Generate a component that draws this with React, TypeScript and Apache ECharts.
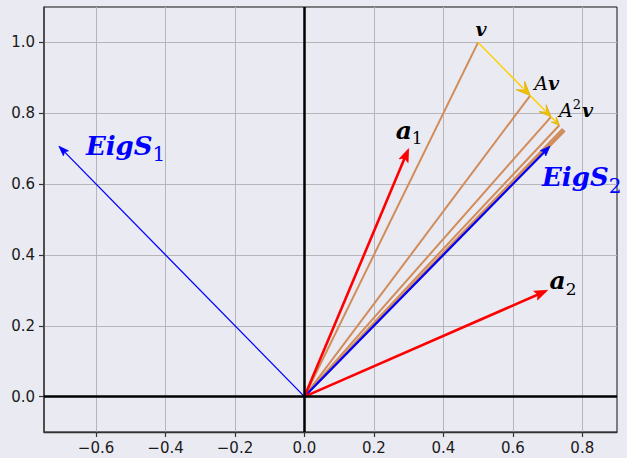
import { useEffect, useRef } from 'react';
import * as echarts from 'echarts';

// ---- data ----
const xTicks = [-0.6, -0.4, -0.2, 0.0, 0.2, 0.4, 0.6, 0.8];
const yTicks = [0.0, 0.2, 0.4, 0.6, 0.8, 1.0];

const columnNames = ['a1', 'a2'];
const columnX = [0.3, 0.7];
const columnY = [0.7, 0.3];

const eigenNames = ['EigS1', 'EigS2'];
const eigenX = [-0.7071, 0.7071];
const eigenY = [0.7071, 0.7071];

const iterateNames = ['v', 'Av', 'A²v', 'A³v', 'A⁴v', 'A⁵v', 'A⁶v', 'A⁷v'];
const iterateX = [0.5, 0.65, 0.71, 0.734, 0.7436, 0.7474, 0.749, 0.7496];
const iterateY = [1.0, 0.85, 0.79, 0.766, 0.7564, 0.7526, 0.751, 0.7504];
const yellowSteps = 3;

// ---- helpers ----
const SERIF = '"DejaVu Serif"';
const measureCtx = (() => {
  const c = document.createElement('canvas');
  return c.getContext('2d') as CanvasRenderingContext2D;
})();
function fontStr(p: any) {
  return `${p.italic ? 'italic' : 'normal'} ${p.bold ? 'bold' : 'normal'} ${p.fs}px ${SERIF}`;
}
function textWidth(p: any) {
  measureCtx.font = fontStr(p);
  return measureCtx.measureText(p.text).width;
}

type ArrowStyle = {
  color: string; width: number; headLen: number; headW: number; notch: number;
  headFill?: string; headStroke?: string;
};

function arrowSeries(name: string, segs: number[][], styles: ArrowStyle[], z: number) {
  return {
    name,
    type: 'custom',
    silent: true,
    z,
    clip: false,
    data: segs,
    encode: { x: [0, 2], y: [1, 3] },
    renderItem: (params: any, api: any) => {
      const s = styles[Math.min(params.dataIndex, styles.length - 1)];
      const p0 = api.coord([api.value(0), api.value(1)]);
      const p1 = api.coord([api.value(2), api.value(3)]);
      const dx = p1[0] - p0[0], dy = p1[1] - p0[1];
      const L = Math.hypot(dx, dy) || 1;
      const ux = dx / L, uy = dy / L, nx = -uy, ny = ux;
      const children: any[] = [];
      let ex = p1[0], ey = p1[1];
      if (s.headLen > 0) {
        ex = p1[0] - ux * s.headLen * 0.7;
        ey = p1[1] - uy * s.headLen * 0.7;
      }
      children.push({
        type: 'line',
        shape: { x1: p0[0], y1: p0[1], x2: ex, y2: ey },
        style: { stroke: s.color, lineWidth: s.width, lineCap: 'butt' },
      });
      if (s.headLen > 0) {
        const bx = p1[0] - ux * s.headLen, by = p1[1] - uy * s.headLen;
        const mx = p1[0] - ux * s.headLen * (1 - s.notch), my = p1[1] - uy * s.headLen * (1 - s.notch);
        children.push({
          type: 'polygon',
          shape: {
            points: [
              [p1[0], p1[1]],
              [bx + nx * s.headW, by + ny * s.headW],
              [mx, my],
              [bx - nx * s.headW, by - ny * s.headW],
            ],
          },
          style: {
            fill: s.headFill || s.color,
            stroke: s.headStroke || s.headFill || s.color,
            lineWidth: 0.8,
            lineJoin: 'miter',
          },
        });
      }
      return { type: 'group', children };
    },
  };
}

// label layouts (pixel offsets from anchor point)
const labelLayouts: any[] = [
  { dx: 3, dy: -7, center: true, color: '#000', parts: [{ text: 'v', fs: 19, italic: true, bold: true }] },
  { dx: 4, dy: -6, color: '#000', parts: [{ text: 'A', fs: 19, italic: true }, { text: 'v', fs: 19, italic: true, bold: true }] },
  { dx: 8, dy: 0, color: '#000', parts: [{ text: 'A', fs: 19, italic: true }, { text: '2', fs: 13, rise: -8 }, { text: 'v', fs: 19, italic: true, bold: true, gap: 1 }] },
  { dx: -13, dy: -10, color: '#000', parts: [{ text: 'a', fs: 25, italic: true, bold: true }, { text: '1', fs: 17, rise: 5 }] },
  { dx: 2, dy: -1, color: '#000', parts: [{ text: 'a', fs: 25, italic: true, bold: true }, { text: '2', fs: 17, rise: 6 }] },
  { dx: 27, dy: 9, color: '#0000ff', parts: [{ text: 'EigS', fs: 26, italic: true, bold: true }, { text: '1', fs: 20, rise: 6 }] },
  { dx: -8, dy: 40, color: '#0000ff', parts: [{ text: 'EigS', fs: 26, italic: true, bold: true }, { text: '2', fs: 20, rise: 7 }] },
];

export default function App() {
  const ref = useRef<HTMLDivElement>(null);
  useEffect(() => {
    if (!ref.current) return;
    const chart = echarts.init(ref.current, null, { renderer: 'svg' });

    const orangeSegs = iterateX.map((x, i) => [0, 0, x, iterateY[i]]);
    const yellowSegs = iterateX.slice(0, yellowSteps).map((x, i) => [x, iterateY[i], iterateX[i + 1], iterateY[i + 1]]);
    const redSegs = columnX.map((x, i) => [0, 0, x, columnY[i]]);
    const blueSegs = eigenX.map((x, i) => [0, 0, x, eigenY[i]]);

    const labelAnchors = [
      [iterateX[0], iterateY[0]],
      [iterateX[1], iterateY[1]],
      [iterateX[2], iterateY[2]],
      [columnX[0], columnY[0]],
      [columnX[1], columnY[1]],
      [eigenX[0], eigenY[0]],
      [eigenX[1], eigenY[1]],
    ];
    const labelTexts = [iterateNames[0], iterateNames[1], iterateNames[2], columnNames[0], columnNames[1], eigenNames[0], eigenNames[1]];

    const fmt = (v: number) => v.toFixed(1).replace('-', '\u2212');
    const axisFont = { fontSize: 15, fontFamily: '"DejaVu Sans"', color: '#1a1a1a' };

    chart.setOption({
      animation: false,
      backgroundColor: '#EAEAF2',
      grid: {
        left: 44, right: 10, top: 7, bottom: 26,
        show: true, backgroundColor: '#EAEAF2', borderColor: '#111', borderWidth: 1,
      },
      xAxis: {
        type: 'value', min: -0.75, max: 0.9,
        axisLine: { show: true, onZero: false, lineStyle: { color: '#333', width: 1.3 } },
        axisTick: { show: true, customValues: xTicks, length: 5, lineStyle: { color: '#333', width: 1.2 } },
        axisLabel: { customValues: xTicks, formatter: fmt, margin: 8, ...axisFont },
        splitLine: { show: true, lineStyle: { color: '#b6b6ba', width: 1 } },
      },
      yAxis: {
        type: 'value', min: -0.1, max: 1.1,
        axisLine: { show: true, onZero: false, lineStyle: { color: '#444', width: 1.6 } },
        axisTick: { show: true, customValues: yTicks, length: 5, lineStyle: { color: '#333', width: 1.2 } },
        axisLabel: { customValues: yTicks, formatter: fmt, margin: 9, ...axisFont },
        splitLine: { show: true, lineStyle: { color: '#b6b6ba', width: 1 } },
      },
      series: [
        {
          name: 'zero', type: 'line', data: [[0, 0]], symbol: 'none', silent: true, z: 1,
          lineStyle: { width: 0 },
          markLine: {
            silent: true, symbol: ['none', 'none'], label: { show: false },
            lineStyle: { color: '#000', width: 2.5, type: 'solid' },
            data: [{ xAxis: 0 }, { yAxis: 0 }],
          },
        },
        arrowSeries('iterates', orangeSegs, [{ color: '#d18c5a', width: 2, headLen: 0, headW: 0, notch: 0 }], 2),
        arrowSeries('eigen', blueSegs, [
          { color: '#0000ff', width: 1.3, headLen: 10, headW: 3.5, notch: 0.2 },
          { color: '#0000ff', width: 2.2, headLen: 10, headW: 3.8, notch: 0.2 },
        ], 3),
        arrowSeries('columns', redSegs, [{ color: '#ff0000', width: 2.6, headLen: 13, headW: 4.8, notch: 0.2 }], 4),
        arrowSeries('power steps', yellowSegs, [
          { color: '#ffd000', width: 1.5, headLen: 14, headW: 6, notch: 0.45, headFill: '#f2c200', headStroke: '#e0b000' },
          { color: '#ffd000', width: 1.5, headLen: 12, headW: 5, notch: 0.45, headFill: '#f2c200', headStroke: '#e0b000' },
          { color: '#ffd000', width: 1.5, headLen: 8, headW: 3.5, notch: 0.45, headFill: '#f2c200', headStroke: '#e0b000' },
        ], 5),
        {
          name: 'labels', type: 'custom', silent: true, z: 6, clip: false,
          data: labelAnchors.map((a, i) => ({ value: a, name: labelTexts[i] })),
          encode: { x: 0, y: 1 },
          renderItem: (params: any, api: any) => {
            const lay = labelLayouts[params.dataIndex];
            const p = api.coord([api.value(0), api.value(1)]);
            const widths = lay.parts.map((pt: any) => textWidth(pt) + (pt.gap || 0));
            const total = widths.reduce((a: number, b: number) => a + b, 0);
            let x = p[0] + lay.dx - (lay.center ? total / 2 : 0);
            const base = p[1] + lay.dy;
            const children = lay.parts.map((pt: any, k: number) => {
              const el = {
                type: 'text',
                x: x + (pt.gap || 0),
                y: base + (pt.rise || 0) - 0.346 * pt.fs,
                style: { text: pt.text, font: fontStr(pt), fill: lay.color, textAlign: 'left', textVerticalAlign: 'middle' },
              };
              x += widths[k];
              return el;
            });
            return { type: 'group', children };
          },
        },
      ],
    });
    return () => chart.dispose();
  }, []);
  return <div ref={ref} style={{ position: 'fixed', left: 0, top: 0, width: 627, height: 458 }} />;
}
